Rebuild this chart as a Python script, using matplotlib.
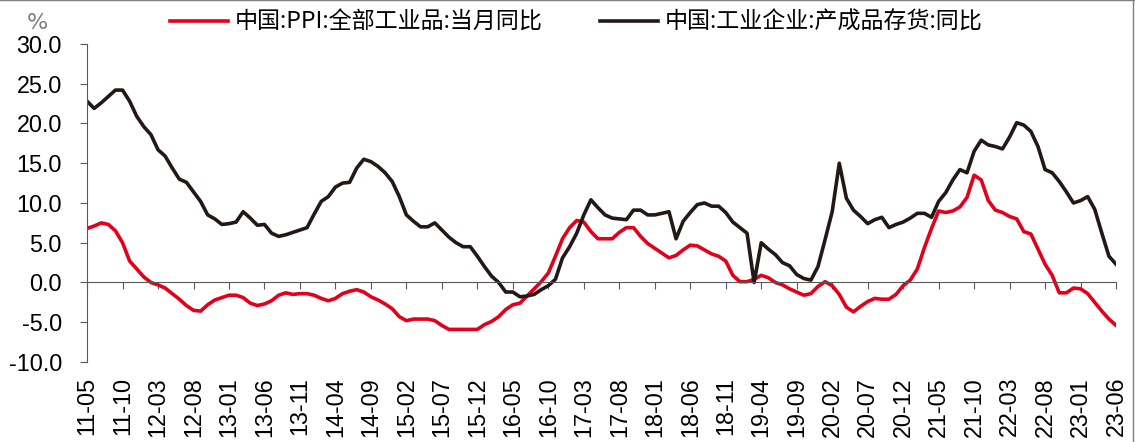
import matplotlib
matplotlib.use('Agg')
import matplotlib.pyplot as plt
from matplotlib.lines import Line2D
import numpy as np
import pandas as pd

plt.rcParams['font.family'] = ['Liberation Sans', 'Noto Sans CJK SC', 'DejaVu Sans']

# monthly categories 2011-05 .. 2023-06
months = [p.strftime('%y-%m') for p in pd.period_range('2011-05', '2023-06', freq='M')]

# 中国:PPI:全部工业品:当月同比
ppi = [
    6.8, 7.1, 7.5, 7.3, 6.5, 5.0, 2.7, 1.7,
    0.7, 0.0, -0.3, -0.7, -1.4, -2.1, -2.9, -3.5, -3.6, -2.8, -2.2, -1.9,
    -1.6, -1.6, -1.9, -2.6, -2.9, -2.7, -2.3, -1.6, -1.3, -1.5, -1.4, -1.4,
    -1.6, -2.0, -2.3, -2.0, -1.4, -1.1, -0.9, -1.2, -1.8, -2.2, -2.7, -3.3,
    -4.3, -4.8, -4.6, -4.6, -4.6, -4.8, -5.4, -5.9, -5.9, -5.9, -5.9, -5.9,
    -5.3, -4.9, -4.3, -3.4, -2.8, -2.6, -1.7, -0.8, 0.1, 1.2, 3.3, 5.5,
    6.9, 7.8, 7.6, 6.4, 5.5, 5.5, 5.5, 6.3, 6.9, 6.9, 5.8, 4.9,
    4.3, 3.7, 3.1, 3.4, 4.1, 4.7, 4.6, 4.1, 3.6, 3.3, 2.7, 0.9,
    0.1, 0.1, 0.4, 0.9, 0.6, 0.0, -0.3, -0.8, -1.2, -1.6, -1.4, -0.5,
    0.1, -0.4, -1.5, -3.1, -3.7, -3.0, -2.4, -2.0, -2.1, -2.1, -1.5, -0.4,
    0.3, 1.7, 4.4, 6.8, 9.0, 8.8, 9.0, 9.5, 10.7, 13.5, 12.9, 10.3,
    9.1, 8.8, 8.3, 8.0, 6.4, 6.1, 4.2, 2.3, 0.9, -1.3, -1.3, -0.7,
    -0.8, -1.4, -2.5, -3.6, -4.6, -5.4,
]

# 中国:工业企业:产成品存货:同比
inventory = [
    22.8, 21.9, 22.6, 23.4, 24.2, 24.2, 22.8, 20.9,
    19.6, 18.6, 16.7, 15.9, 14.4, 13.0, 12.6, 11.4, 10.2, 8.5, 8.0, 7.3,
    7.4, 7.6, 8.9, 8.1, 7.2, 7.3, 6.2, 5.8, 6.0, 6.3, 6.6, 6.9,
    8.6, 10.2, 10.8, 12.0, 12.5, 12.6, 14.4, 15.5, 15.2, 14.6, 13.8, 12.7,
    10.8, 8.5, 7.7, 7.0, 7.0, 7.5, 6.6, 5.7, 5.0, 4.5, 4.5, 3.3,
    2.0, 0.8, 0.0, -1.2, -1.2, -1.8, -1.7, -1.5, -0.9, -0.4, 0.4, 3.1,
    4.5, 6.2, 8.5, 10.4, 9.4, 8.5, 8.1, 8.0, 7.9, 9.1, 9.1, 8.5,
    8.5, 8.7, 8.9, 5.5, 7.7, 8.8, 9.8, 10.0, 9.6, 9.6, 8.8, 7.6,
    6.9, 6.2, 0.0, 5.0, 4.2, 3.5, 2.5, 2.1, 1.0, 0.5, 0.3, 2.0,
    5.4, 8.9, 15.0, 10.6, 9.1, 8.3, 7.4, 7.9, 8.2, 6.9, 7.3, 7.6,
    8.1, 8.7, 8.7, 8.2, 10.2, 11.3, 12.9, 14.2, 13.8, 16.5, 17.9, 17.3,
    17.1, 16.8, 18.3, 20.1, 19.8, 19.0, 17.1, 14.2, 13.8, 12.7, 11.4, 10.0,
    10.3, 10.8, 9.2, 6.2, 3.3, 2.3,
]

labels = ['中国:PPI:全部工业品:当月同比', '中国:工业企业:产成品存货:同比']
yticks = [-10, -5, 0, 5, 10, 15, 20, 25, 30]

x = np.arange(len(months))

fig = plt.figure(figsize=(11.35, 4.42), dpi=100)
ax = fig.add_axes([0.0767, 0.181, 0.9066, 0.7195])

ax.plot(x, ppi, color='#E2001A', lw=2.6, solid_joinstyle='round', label=labels[0])
ax.plot(x, inventory, color='#231815', lw=2.6, solid_joinstyle='round', label=labels[1])

ax.set_xlim(0, len(months) - 1)
ax.set_ylim(-10, 30)

axis_color = '#595959'
ax.spines['top'].set_visible(False)
ax.spines['right'].set_visible(False)
ax.spines['left'].set_color(axis_color)
ax.spines['bottom'].set_color(axis_color)
ax.spines['bottom'].set_position(('data', 0))

ax.set_yticks(yticks)
ax.set_yticklabels([f'{v:.1f}' for v in yticks])
ax.set_xticks(x[::5])
ax.set_xticklabels(months[::5], rotation=90)

ax.tick_params(axis='y', direction='out', length=5, width=0.8, color=axis_color,
               labelsize=16.8, pad=13)
ax.tick_params(axis='x', direction='out', length=5, width=0.8, color=axis_color,
               labelsize=16.8, pad=63)

fig.text(0.033, 0.948, '%', fontsize=16, color='#7f7f7f', ha='center', va='center',
         family='Liberation Sans Narrow')

fig.legend(loc='center', bbox_to_anchor=(0.508, 0.95), ncol=2, frameon=False,
           prop={'family': ['Noto Sans CJK SC'], 'size': 16.6},
           handlelength=2.5, handletextpad=0.3, columnspacing=2.5)

# thin frame at top and right edge, as in the source image
fig.add_artist(Line2D([0, 1], [0.999, 0.999], transform=fig.transFigure, color='#7f7f7f', lw=1))
fig.add_artist(Line2D([0.998, 0.998], [0, 1], transform=fig.transFigure, color='#7f7f7f', lw=1))

fig.savefig('out.png', dpi=100)
